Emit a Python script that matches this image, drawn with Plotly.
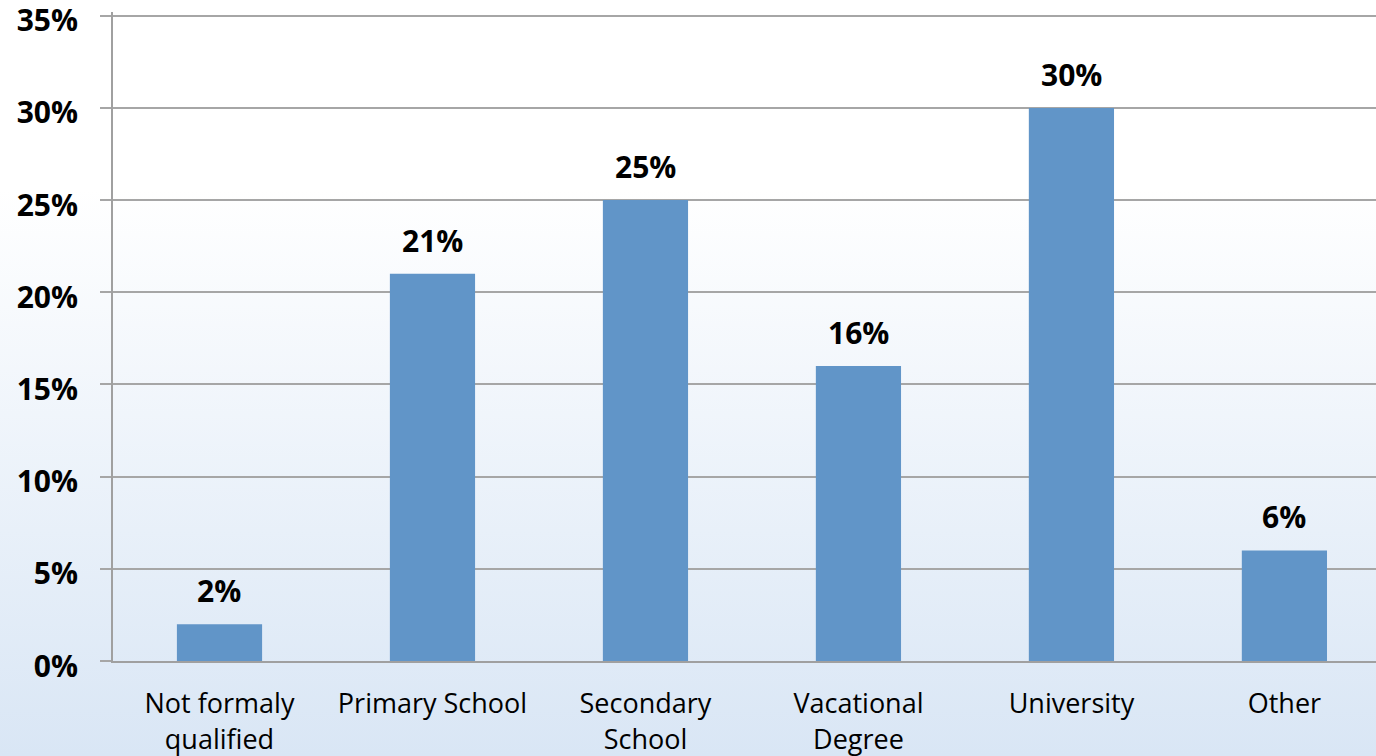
import base64
import plotly.graph_objects as go

categories = ["Not formaly<br>qualified", "Primary School", "Secondary<br>School",
              "Vacational<br>Degree", "University", "Other"]
values = [0.02, 0.21, 0.25, 0.16, 0.30, 0.06]
tick_vals = [0, 0.05, 0.10, 0.15, 0.20, 0.25, 0.30, 0.35]
tick_text = ["0%", "5%", "10%", "15%", "20%", "25%", "30%", "35%"]
value_labels = ["2%", "21%", "25%", "16%", "30%", "6%"]

svg = ('<svg xmlns="http://www.w3.org/2000/svg" width="100" height="100" preserveAspectRatio="none">'
       '<defs><linearGradient id="g" x1="0" y1="0" x2="0" y2="1">'
       '<stop offset="0" stop-color="#ffffff"/><stop offset="0.25" stop-color="#ffffff"/>'
       '<stop offset="1" stop-color="#d9e6f5"/></linearGradient></defs>'
       '<rect width="100" height="100" fill="url(#g)"/></svg>')
src = "data:image/svg+xml;base64," + base64.b64encode(svg.encode()).decode()

W, H = 1376, 756
ML, MR, MT, MB = 113, 0, 12, 95
PW, PH = W - ML - MR, H - MT - MB

fig = go.Figure()
fig.add_trace(go.Bar(x=list(range(len(categories))), y=values, width=0.4,
                     marker=dict(color="#6195c8", line=dict(width=0)),
                     hoverinfo="skip"))

for i, (v, t) in enumerate(zip(values, value_labels)):
    fig.add_annotation(x=i, y=v, text="<b>%s</b>" % t, showarrow=False,
                       yanchor="bottom", yshift=11,
                       font=dict(family="Open Sans", size=30, color="black"))

fig.add_layout_image(dict(source=src, xref="paper", yref="paper",
                          x=-ML / PW, y=1 + MT / PH,
                          sizex=W / PW, sizey=H / PH,
                          xanchor="left", yanchor="top", sizing="stretch",
                          layer="below"))

fig.update_layout(
    width=W, height=H,
    margin=dict(l=ML, r=MR, t=MT, b=MB, autoexpand=False),
    paper_bgcolor="white", plot_bgcolor="rgba(0,0,0,0)",
    showlegend=False,
    font=dict(family="Open Sans", color="black"),
)
fig.update_xaxes(range=[-0.5, 5.43], tickvals=list(range(len(categories))),
                 ticktext=categories, showgrid=False, zeroline=False,
                 showline=True, linecolor="#a0a0a0", linewidth=2,
                 ticks="", tickfont=dict(family="Open Sans", size=27, color="black"),
                 ticklabelstandoff=18, automargin=False, fixedrange=True)
fig.update_yaxes(range=[0, 0.352], tickvals=tick_vals, ticktext=["<b>%s</b>" % t for t in tick_text],
                 showgrid=True, gridcolor="#a6a6a6", gridwidth=2, zeroline=False,
                 showline=True, linecolor="#a0a0a0", linewidth=2,
                 ticks="outside", ticklen=11, tickcolor="#a6a6a6", tickwidth=2,
                 tickfont=dict(family="Open Sans", size=30, color="black"),
                 ticklabelstandoff=16, ticklabelshift=5, ticklabeloverflow="allow",
                 automargin=False, fixedrange=True)

fig.write_html("out.html", config={"displayModeBar": False},
               post_script="document.body.style.margin='0';document.body.style.padding='0';"
                           "document.body.style.overflow='hidden';")
